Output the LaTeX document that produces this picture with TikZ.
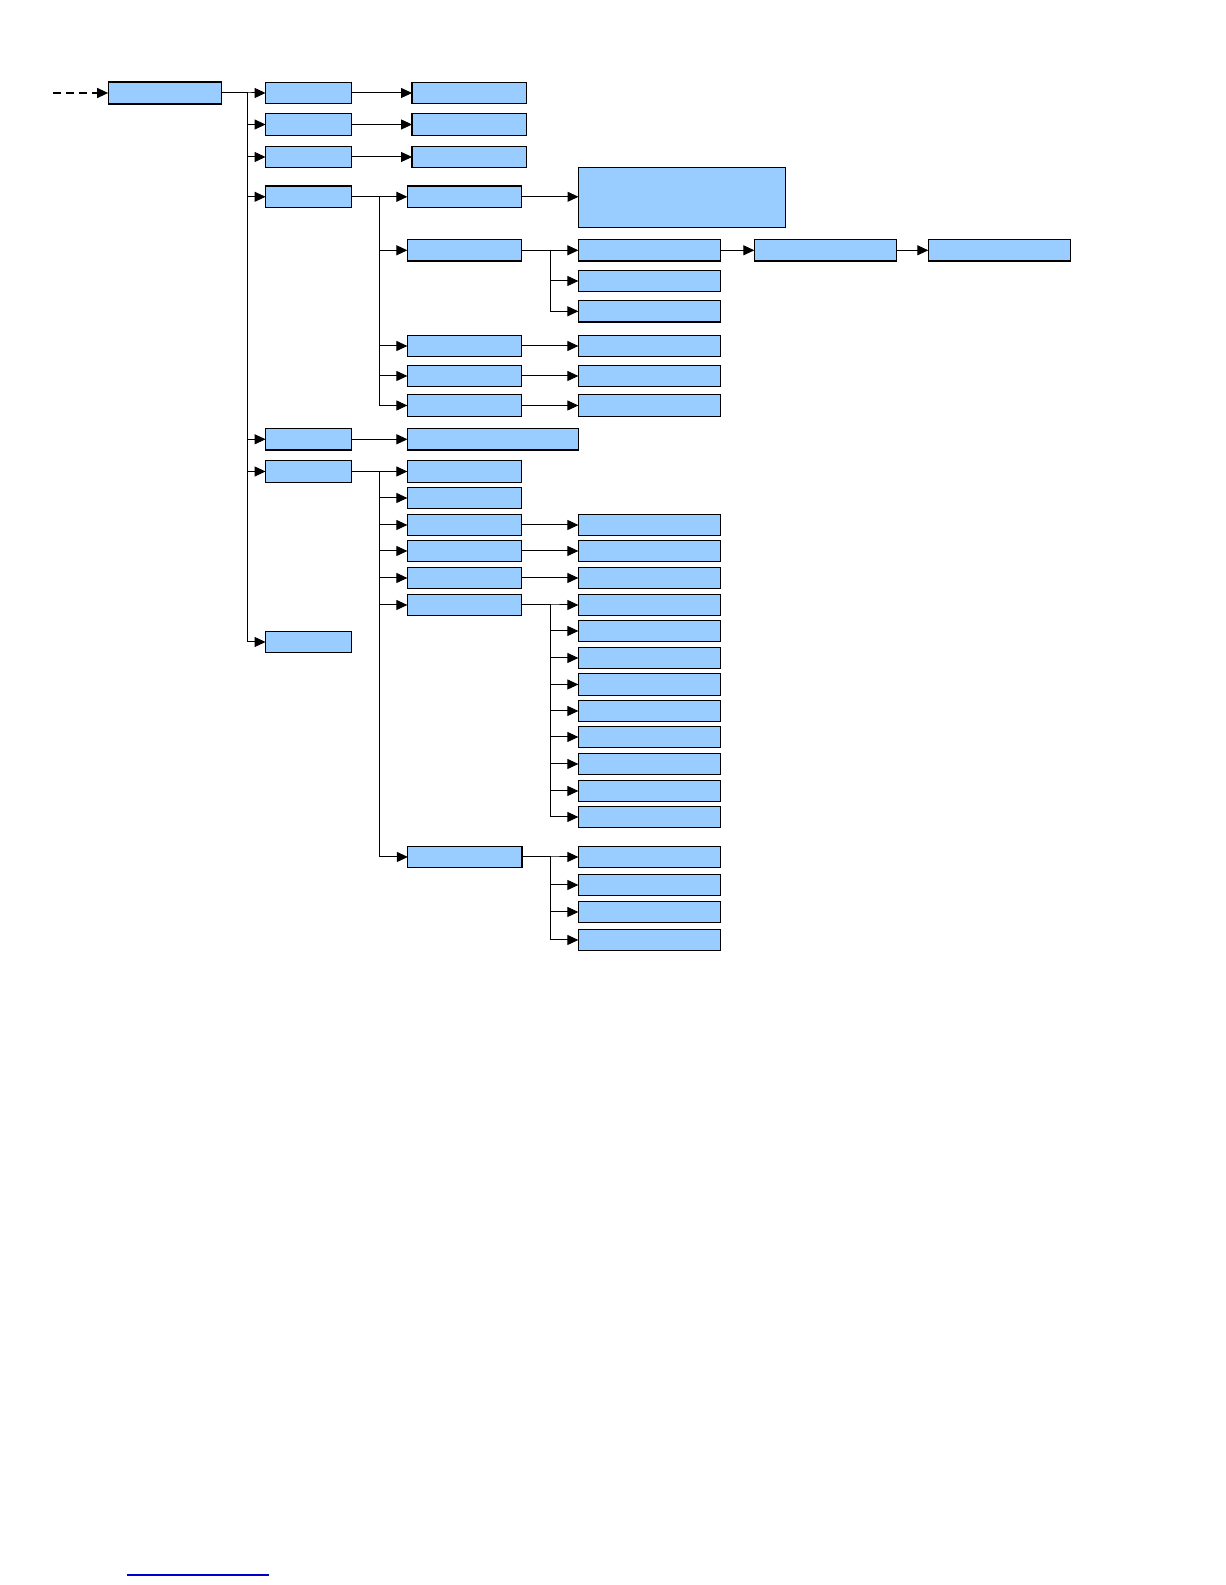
\documentclass[tikz,border=0pt]{standalone}
\usetikzlibrary{arrows.meta}
\definecolor{boxblue}{RGB}{153,204,255}
\definecolor{linkblue}{RGB}{0,0,204}
\begin{document}
\begin{tikzpicture}[x=0.49959bp,y=-0.49968bp,
  box/.style={draw=black,line width=0.6pt,fill=boxblue,inner sep=0pt,outer sep=0pt,minimum height=10.75pt},
  rootbox/.style={box,minimum width=57pt,minimum height=11pt},
  lone/.style={box,minimum width=43pt},
  ltwo/.style={box,minimum width=57.2pt},
  ltwob/.style={box,minimum width=57.5pt},
  lthree/.style={box,minimum width=71.2pt},
  widebox/.style={box,minimum width=85.7pt},
  bigbox/.style={box,minimum width=103.7pt,minimum height=30pt},
  arr/.style={line width=0.5pt,-{Triangle[length=5.5pt,width=5pt]}},
  dasharr/.style={line width=0.7pt,dash pattern=on 4pt off 2.6pt,-{Triangle[length=5.5pt,width=5pt]}}
]
\fill[white] (0,0) rectangle ++(612.25bp,-792bp);
\useasboundingbox (0,0) rectangle ++(612.25bp,-792bp);
\coordinate (busA) at (247.5,0);
\coordinate (busB) at (379.5,0);
\coordinate (busC) at (550.7,0);
\coordinate (start) at (53,93);

% root
\node[rootbox] (root) at (165,93) {};
% level 1
\node[lone] (a1) at (308.5,93) {};
\node[lone] (a2) at (308.5,124.5) {};
\node[lone] (a3) at (308.5,157) {};
\node[lone] (a4) at (308.5,196.8) {};
\node[lone] (a5) at (308.5,439.3) {};
\node[lone] (a6) at (308.5,471.5) {};
\node[lone] (a7) at (308.5,642) {};
% level 2 under rows 1-3
\node[ltwob] (b1) at (469.5,93) {};
\node[ltwob] (b2) at (469.5,124.5) {};
\node[ltwob] (b3) at (469.5,157) {};
% children of a4
\node[ltwo] (c1) at (464.5,196.8) {};
\node[ltwo] (c2) at (464.5,250.3) {};
\node[ltwo] (c3) at (464.5,346) {};
\node[ltwo] (c4) at (464.5,376) {};
\node[ltwo] (c5) at (464.5,405.5) {};
\node[bigbox] (big) at (682,197.3) {};
\node[lthree] (d1) at (649.5,250.3) {};
\node[lthree] (d2) at (649.5,281) {};
\node[lthree] (d3) at (649.5,311.3) {};
\node[lthree] (d4) at (825.5,250.3) {};
\node[lthree] (d5) at (999.5,250.3) {};
\node[lthree] (d6) at (649.5,346) {};
\node[lthree] (d7) at (649.5,376) {};
\node[lthree] (d8) at (649.5,405.5) {};
% child of a5
\node[widebox] (e1) at (493,439.3) {};
% children of a6
\node[ltwo] (f1) at (464.5,471.5) {};
\node[ltwo] (f2) at (464.5,498) {};
\node[ltwo] (f3) at (464.5,525) {};
\node[ltwo] (f4) at (464.5,551) {};
\node[ltwo] (f5) at (464.5,578) {};
\node[ltwo] (f6) at (464.5,605) {};
\node[ltwo] (f7) at (465,857) {};
\node[lthree] (g3) at (649.5,525) {};
\node[lthree] (g4) at (649.5,551) {};
\node[lthree] (g5) at (649.5,578) {};
% children of f6
\node[lthree] (h1) at (649.5,605) {};
\node[lthree] (h2) at (649.5,631) {};
\node[lthree] (h3) at (649.5,658) {};
\node[lthree] (h4) at (649.5,684.5) {};
\node[lthree] (h5) at (649.5,711) {};
\node[lthree] (h6) at (649.5,737) {};
\node[lthree] (h7) at (649.5,764) {};
\node[lthree] (h8) at (649.5,791) {};
\node[lthree] (h9) at (649.5,817) {};
% children of f7
\node[lthree] (k1) at (649.5,857) {};
\node[lthree] (k2) at (649.5,885) {};
\node[lthree] (k3) at (649.5,912) {};
\node[lthree] (k4) at (649.5,940) {};

% connectors
\draw[dasharr] (start) -- (root.west);
\foreach \c in {a1,a2,a3,a4,a5,a6,a7}
  \draw[arr] (root.east) -- (root.east -| busA) |- (\c.west);
\foreach \p/\c in {a1/b1,a2/b2,a3/b3,c1/big,c3/d6,c4/d7,c5/d8,d1/d4,d4/d5,a5/e1,f3/g3,f4/g4,f5/g5}
  \draw[arr] (\p.east) -- (\p.east -| \c.west);
\foreach \c in {c1,c2,c3,c4,c5}
  \draw[arr] (a4.east) -- (a4.east -| busB) |- (\c.west);
\foreach \c in {d1,d2,d3}
  \draw[arr] (c2.east) -- (c2.east -| busC) |- (\c.west);
\foreach \c in {f1,f2,f3,f4,f5,f6,f7}
  \draw[arr] (a6.east) -- (a6.east -| busB) |- (\c.west);
\foreach \c in {h1,h2,h3,h4,h5,h6,h7,h8,h9}
  \draw[arr] (f6.east) -- (f6.east -| busC) |- (\c.west);
\foreach \c in {k1,k2,k3,k4}
  \draw[arr] (f7.east) -- (f7.east -| busC) |- (\c.west);

% link underline at the bottom
\draw[linkblue,line width=0.6pt] (127,1575) -- (268.7,1575);
\end{tikzpicture}
\end{document}
